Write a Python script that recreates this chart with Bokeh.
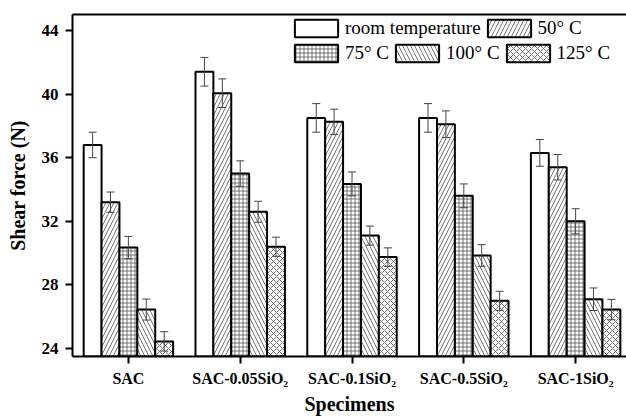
import numpy as np
from bokeh.plotting import figure
from bokeh.models import (ColumnDataSource, Whisker, TeeHead, Range1d, FixedTicker,
                          LinearAxis, Legend, LegendItem)
from bokeh.embed import file_html
from bokeh.resources import INLINE

# Specimens and shear force (N) at each test temperature, with error bars
categories = ["SAC", "SAC-0.05SiO\u2082", "SAC-0.1SiO\u2082", "SAC-0.5SiO\u2082", "SAC-1SiO\u2082"]
series_labels = ["room temperature", "50\u00b0 C", "75\u00b0 C", "100\u00b0 C", "125\u00b0 C"]

room = [36.8, 41.4, 38.5, 38.5, 36.3]
t50 = [33.2, 40.05, 38.25, 38.1, 35.4]
t75 = [30.35, 35.0, 34.35, 33.6, 32.0]
t100 = [26.45, 32.6, 31.1, 29.85, 27.1]
t125 = [24.45, 30.4, 29.75, 27.0, 26.45]

err_room = [0.8, 0.9, 0.9, 0.9, 0.84]
err_50 = [0.64, 0.9, 0.8, 0.84, 0.8]
err_75 = [0.7, 0.8, 0.75, 0.75, 0.79]
err_100 = [0.66, 0.66, 0.6, 0.68, 0.71]
err_125 = [0.61, 0.6, 0.58, 0.6, 0.64]

y_ticks = [24, 28, 32, 36, 40, 44]

values = [room, t50, t75, t100, t125]
errors = [err_room, err_50, err_75, err_100, err_125]
hatches = [None, "/", "+", "\\", "x"]
hatch_scales = [8, 8, 4, 8, 6]

FONT = "Liberation Serif"
BAR_W = 0.16
Y0 = 23.5

p = figure(width=626, height=418,
           x_range=Range1d(-0.5, 4.455), y_range=Range1d(Y0, 45),
           output_backend="svg", toolbar_location=None,
           min_border_left=72, min_border_right=0, min_border_top=14, min_border_bottom=62)
p.outline_line_color = None
p.xgrid.visible = False
p.ygrid.visible = False
p.background_fill_color = "white"
p.border_fill_color = "white"

idx = np.arange(len(categories))
renderers = []
for k, (vals, errs) in enumerate(zip(values, errors)):
    xs = idx + (k - 2) * BAR_W
    vals = np.array(vals)
    errs = np.array(errs)
    src = ColumnDataSource(dict(x=xs, top=vals, lower=vals - errs, upper=vals + errs))
    kw = {}
    if hatches[k] is not None:
        kw = dict(hatch_pattern=hatches[k], hatch_color="#555555",
                  hatch_weight=0.8, hatch_scale=hatch_scales[k])
    r = p.vbar(x="x", top="top", bottom=Y0, width=BAR_W, source=src,
               fill_color="white", line_color="black", line_width=2, **kw)
    renderers.append(r)
    # error bars drawn over the bars
    w = Whisker(source=src, base="x", lower="lower", upper="upper", level="annotation",
                line_color="#444444", line_width=1,
                upper_head=TeeHead(size=8, line_color="#444444", line_width=1),
                lower_head=TeeHead(size=8, line_color="#444444", line_width=1))
    p.add_layout(w)

# Axes
for ax in (p.xaxis[0], p.yaxis[0]):
    ax.axis_line_width = 2
    ax.axis_line_color = "black"
    ax.major_tick_line_width = 2
    ax.major_tick_line_color = "black"
    ax.major_tick_out = 7
    ax.major_tick_in = 0
    ax.minor_tick_line_color = None
    ax.major_label_text_font = FONT
    ax.major_label_text_font_style = "bold"
    ax.major_label_text_color = "black"
    ax.axis_label_text_font = FONT
    ax.axis_label_text_font_style = "bold"
    ax.axis_label_text_font_size = "20px"
    ax.axis_label_text_color = "black"

p.xaxis.ticker = FixedTicker(ticks=list(idx))
p.xaxis.major_label_overrides = {int(i): c for i, c in zip(idx, categories)}
p.xaxis.major_label_text_font_size = "16px"
p.xaxis.major_label_standoff = 6
p.xaxis.axis_label = "Specimens"
p.xaxis.axis_label_standoff = 3

p.yaxis.ticker = FixedTicker(ticks=y_ticks)
p.yaxis.major_label_text_font_size = "17px"
p.yaxis.major_label_standoff = 7
p.yaxis.axis_label = "Shear force (N)"
p.yaxis.axis_label_standoff = 10

top_axis = LinearAxis(axis_line_width=2, axis_line_color="black",
                      major_tick_line_color=None, minor_tick_line_color=None,
                      major_label_text_font_size="0px", ticker=FixedTicker(ticks=[]))
p.add_layout(top_axis, "above")

# Legend in two rows (the legend swatch is inset 10% inside its glyph box)
legend_kw = dict(orientation="horizontal", glyph_width=54, glyph_height=22,
                 label_standoff=2, spacing=1, padding=0, margin=0,
                 border_line_color=None, background_fill_alpha=0,
                 label_text_font=FONT, label_text_font_size="19px",
                 label_text_color="black", label_height=22)
row1 = Legend(items=[LegendItem(label=series_labels[i], renderers=[renderers[i]]) for i in (0, 1)],
              location=(217, 317), **legend_kw)
row2 = Legend(items=[LegendItem(label=series_labels[i], renderers=[renderers[i]]) for i in (2, 3, 4)],
              location=(217, 292), **legend_kw)
p.add_layout(row1)
p.add_layout(row2)

open("out.html", "w").write(file_html(p, INLINE))
